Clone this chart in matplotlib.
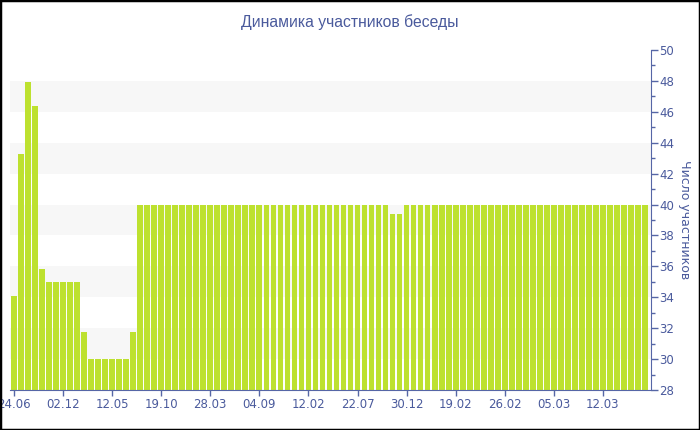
import matplotlib
matplotlib.use("Agg")
import matplotlib.pyplot as plt
from matplotlib.patches import Rectangle
from matplotlib.ticker import MultipleLocator

title = "Динамика участников беседы"
ylabel = "Число участников"

# values per bar (91 bars)
values = ([34.1, 43.3, 47.9, 46.4, 35.8]
          + [35.0] * 5
          + [31.75]
          + [30.0] * 6
          + [31.75]
          + [40.0] * 36
          + [39.4] * 2
          + [40.0] * 35)

tick_positions = [0, 7, 14, 21, 28, 35, 42, 49, 56, 63, 70, 77, 84]
tick_labels = ["24.06", "02.12", "12.05", "19.10", "28.03", "04.09", "12.02",
               "22.07", "30.12", "19.02", "26.02", "05.03", "12.03"]

bar_color = "#bde12f"
text_color = "#4a5a9c"
axis_color = "#5666a6"
band_color = "#f7f7f7"

plt.rcParams['font.family'] = ['DejaVu Sans']

fig = plt.figure(figsize=(7, 4.3), dpi=100)
ax = fig.add_axes([10 / 700, 1 - 390 / 430, 640.7 / 700, 340 / 430])

for lo in range(30, 50, 4):
    ax.axhspan(lo, lo + 2, color=band_color, zorder=0, lw=0)

x = list(range(len(values)))
ax.bar(x, values, width=0.82, color=bar_color, zorder=2, linewidth=0)

ax.set_xlim(-0.57, 90.82)
ax.set_ylim(28, 50)

ax.yaxis.tick_right()
ax.yaxis.set_major_locator(MultipleLocator(2))
ax.yaxis.set_minor_locator(MultipleLocator(1))
ax.tick_params(axis='y', which='major', length=5, color=axis_color,
               labelcolor=text_color, labelsize=8.5, pad=1, width=1)
ax.tick_params(axis='y', which='minor', length=3, color=axis_color, width=1)

ax.set_xticks(tick_positions)
ax.set_xticklabels(tick_labels)
ax.tick_params(axis='x', length=4, color=axis_color, labelcolor=text_color,
               labelsize=8.5, pad=2, width=1)

for s in ['top', 'left']:
    ax.spines[s].set_visible(False)
ax.spines['bottom'].set_color(axis_color)
ax.spines['right'].set_color(axis_color)
ax.spines['bottom'].set_zorder(3)

fig.text(684 / 700, 1 - 220 / 430, ylabel, rotation=270, ha='center', va='center',
         color=text_color, fontsize=9)

fig.text(0.5, 1 - 22 / 430, title, ha='center', va='center',
         color=text_color, fontsize=11.3, family=['Liberation Sans', 'DejaVu Sans'])

fig.patches.append(Rectangle((0, 0), 1, 1, transform=fig.transFigure,
                             fill=False, edgecolor='black', linewidth=2.5))

fig.savefig("out.png", dpi=100)
